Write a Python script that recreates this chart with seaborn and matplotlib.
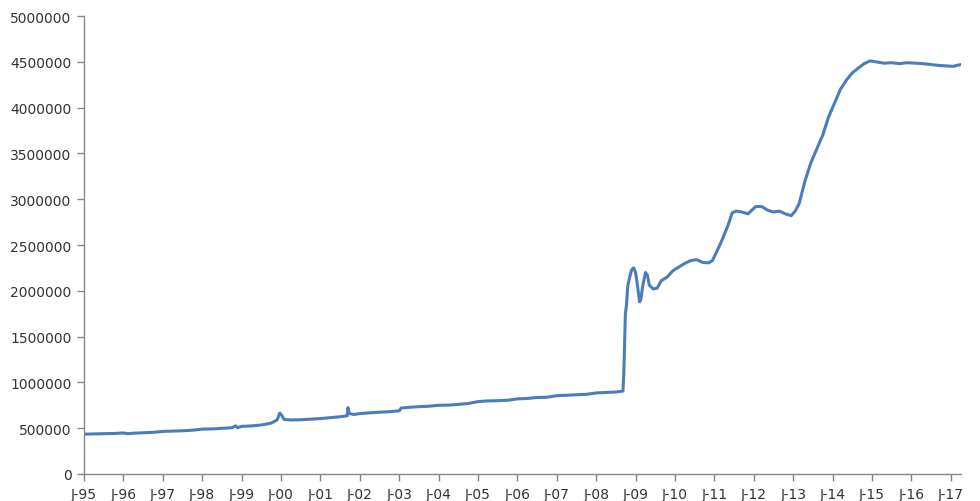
import matplotlib
matplotlib.use("Agg")
import matplotlib.pyplot as plt
import seaborn as sns
import pandas as pd

# decimal years and balance values
years = [
    1995.00, 1995.25, 1995.50, 1995.75, 1996.00, 1996.10, 1996.25, 1996.50, 1996.75,
    1997.00, 1997.25, 1997.50, 1997.75, 1998.00, 1998.25, 1998.50, 1998.75, 1998.85,
    1998.90, 1999.00, 1999.25, 1999.50, 1999.75, 1999.90, 1999.97, 2000.02, 2000.08,
    2000.25, 2000.50, 2000.75, 2001.00, 2001.25, 2001.50, 2001.68, 2001.70, 2001.73,
    2001.85, 2002.00, 2002.25, 2002.50, 2002.75, 2003.00, 2003.05, 2003.25, 2003.50,
    2003.75, 2004.00, 2004.25, 2004.50, 2004.75, 2005.00, 2005.25, 2005.50, 2005.75,
    2006.00, 2006.25, 2006.50, 2006.75, 2007.00, 2007.25, 2007.50, 2007.75, 2008.00,
    2008.25, 2008.50, 2008.68, 2008.70, 2008.72, 2008.74, 2008.77, 2008.80, 2008.85,
    2008.90, 2008.95, 2009.00, 2009.05, 2009.10, 2009.13, 2009.18, 2009.25, 2009.30,
    2009.35, 2009.45, 2009.55, 2009.65, 2009.80, 2009.95, 2010.10, 2010.25, 2010.40,
    2010.55, 2010.70, 2010.85, 2010.95, 2011.05, 2011.20, 2011.35, 2011.45, 2011.55,
    2011.70, 2011.85, 2011.95, 2012.05, 2012.20, 2012.35, 2012.50, 2012.65, 2012.80,
    2012.95, 2013.05, 2013.15, 2013.30, 2013.45, 2013.60, 2013.75, 2013.90, 2014.05,
    2014.20, 2014.35, 2014.50, 2014.65, 2014.80, 2014.95, 2015.10, 2015.30, 2015.50,
    2015.70, 2015.90, 2016.10, 2016.30, 2016.50, 2016.70, 2016.90, 2017.05, 2017.25,
]
values = [
    435000, 438000, 440000, 442000, 448000, 440000, 445000, 450000, 455000,
    465000, 468000, 472000, 478000, 490000, 492000, 498000, 505000, 525000,
    505000, 520000, 525000, 535000, 555000, 590000, 665000, 640000, 595000,
    590000, 592000, 598000, 605000, 615000, 625000, 635000, 725000, 660000,
    650000, 660000, 668000, 675000, 680000, 690000, 720000, 728000, 735000,
    740000, 750000, 752000, 760000, 770000, 790000, 798000, 800000, 805000,
    820000, 825000, 835000, 838000, 855000, 860000, 865000, 870000, 885000,
    890000, 895000, 905000, 1100000, 1400000, 1750000, 1850000, 2050000, 2150000,
    2230000, 2250000, 2200000, 2050000, 1880000, 1900000, 2050000, 2200000, 2170000,
    2060000, 2020000, 2030000, 2110000, 2150000, 2220000, 2260000, 2300000, 2330000,
    2340000, 2310000, 2305000, 2330000, 2420000, 2560000, 2720000, 2850000, 2870000,
    2860000, 2840000, 2880000, 2920000, 2920000, 2880000, 2860000, 2870000, 2840000,
    2820000, 2870000, 2950000, 3200000, 3400000, 3550000, 3700000, 3900000, 4050000,
    4200000, 4300000, 4380000, 4430000, 4480000, 4510000, 4500000, 4485000, 4490000,
    4480000, 4490000, 4485000, 4480000, 4470000, 4460000, 4455000, 4450000, 4470000,
]
tick_years = list(range(1995, 2018))
tick_labels = ["J-%02d" % (y % 100) for y in tick_years]
y_ticks = list(range(0, 5000001, 500000))

df = pd.DataFrame({"year": years, "value": values})

sns.set_theme(style="white")
plt.rcParams["font.family"] = ["DejaVu Sans"]

fig = plt.figure(figsize=(9.8, 5.02), dpi=100)
ax = fig.add_axes([84 / 980, 1 - 475 / 502, (961 - 84) / 980, (475 - 17) / 502])

sns.lineplot(data=df, x="year", y="value", ax=ax, color="#4a7ebb", linewidth=2.2)

ax.set_xlim(1995.0, 1995 + (961 - 84) / 39.4)
ax.set_ylim(0, 5000000)
ax.set_xticks(tick_years)
ax.set_xticklabels(tick_labels)
ax.set_yticks(y_ticks)
ax.set_yticklabels([str(v) for v in y_ticks])
ax.set_xlabel("")
ax.set_ylabel("")

for side in ["top", "right"]:
    ax.spines[side].set_visible(False)
for side in ["left", "bottom"]:
    ax.spines[side].set_color("#868686")
    ax.spines[side].set_linewidth(1.0)
ax.tick_params(axis="both", which="major", direction="out", length=5, width=1,
               color="#868686", labelsize=10, labelcolor="#333333", pad=4,
               bottom=True, left=True)
ax.grid(False)

fig.savefig("out.png", dpi=100)
